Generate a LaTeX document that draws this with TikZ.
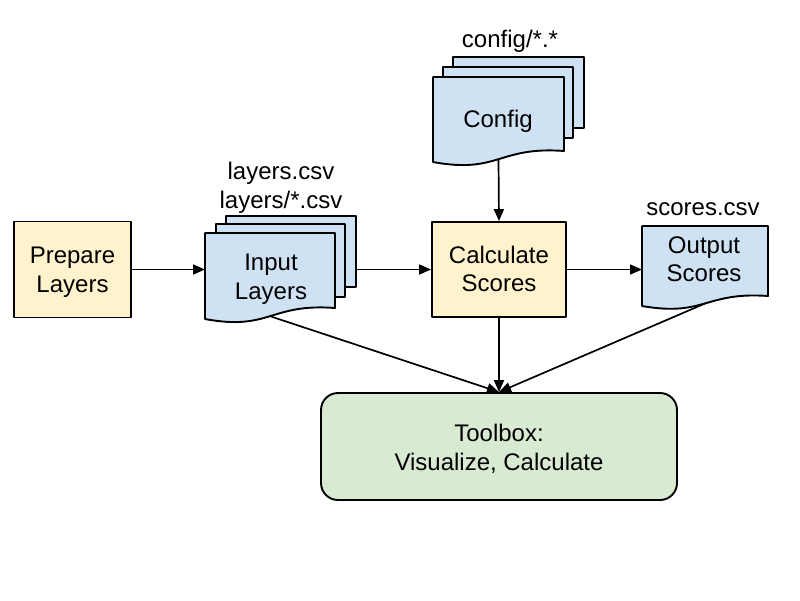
\documentclass[tikz,border=0pt]{standalone}
\usepackage{fontspec}
\setmainfont{Liberation Sans}
\usetikzlibrary{arrows.meta}
\definecolor{docblue}{HTML}{CFE2F3}
\definecolor{procyellow}{HTML}{FFF2CC}
\definecolor{toolgreen}{HTML}{D9EAD3}
\tikzset{
  shapeline/.style={draw=black, line width=1.9pt, line join=round},
  txt/.style={font=\fontsize{24}{28.8}\selectfont, align=center, inner sep=0pt},
  procbox/.style={shapeline, fill=procyellow, rectangle, inner sep=0pt},
  toolbox/.style={shapeline, fill=toolgreen, rectangle, rounded corners=17pt, inner sep=0pt},
  sheet/.style={shapeline, fill=docblue},
  conn/.style={line width=1.7pt, -{Triangle[length=12pt,width=10pt]}},
}
\newcommand\docsheet[5]{%
  \draw[sheet] (#1,#2) -- (#3,#2) -- (#3,#4-#5)
    .. controls ({(#1+#3)/2},{#4-1.45*#5}) and ({(#1+#3)/2},{#4+1.1*#5}) .. (#1,#4) -- cycle;}
\begin{document}
\begin{tikzpicture}[x=1pt,y=-1pt]
\useasboundingbox[fill=white] (0,0) rectangle (800,600);

% process boxes
\node[procbox, minimum width=117pt, minimum height=96pt] (prep) at (72.5,269.5) {};
\node[txt] (preptext) at (72.5,272) {Prepare\\Layers};
\node[procbox, minimum width=134pt, minimum height=95pt] (calc) at (499,269.5) {};
\node[txt] (calctext) at (499,269) {Calculate\\Scores};
\node[toolbox, minimum width=356pt, minimum height=107pt] (tool) at (499,446.5) {};
\node[txt] (tooltext) at (499,449.2) {Toolbox:\\Visualize, Calculate};

% config stack
\draw[sheet] (453,57) rectangle (584,128);
\draw[sheet] (443,67) rectangle (573,138);
\docsheet{433}{77}{564}{162}{11}
\node[txt, anchor=base] (cfgtext) at (498,127) {Config};
\node[txt, anchor=base] (cfglabel) at (510,47) {config/*.*};
\coordinate (cfgS) at (498.5,159.5);

% input stack
\draw[sheet] (226,216) rectangle (356,287);
\draw[sheet] (216,224) rectangle (345,297);
\docsheet{205}{233}{335}{319}{11}
\node[txt] (intext) at (271,279) {Input\\Layers};
\node[txt] (inlabel) at (281,187.4) {layers.csv\\layers/*.csv};
\coordinate (inW) at (205,269.5);
\coordinate (inE) at (356,269.5);
\coordinate (inS) at (271,316.5);

% output
\docsheet{642}{226}{768}{306}{10}
\node[txt] (outtext) at (704,259.2) {Output\\Scores};
\node[txt, anchor=base] (outlabel) at (703,215) {scores.csv};
\coordinate (outW) at (642,269.5);
\coordinate (outS) at (705,303.5);

% connectors
\draw[conn] (prep.east) -- (inW);
\draw[conn] (inE) -- (calc.west);
\draw[conn] (calc.east) -- (outW);
\draw[conn] (cfgS) -- (calc.north);
\draw[conn] (inS) -- (tool.north);
\draw[conn] (calc.south) -- (tool.north);
\draw[conn] (outS) -- (tool.north);
\end{tikzpicture}
\end{document}
